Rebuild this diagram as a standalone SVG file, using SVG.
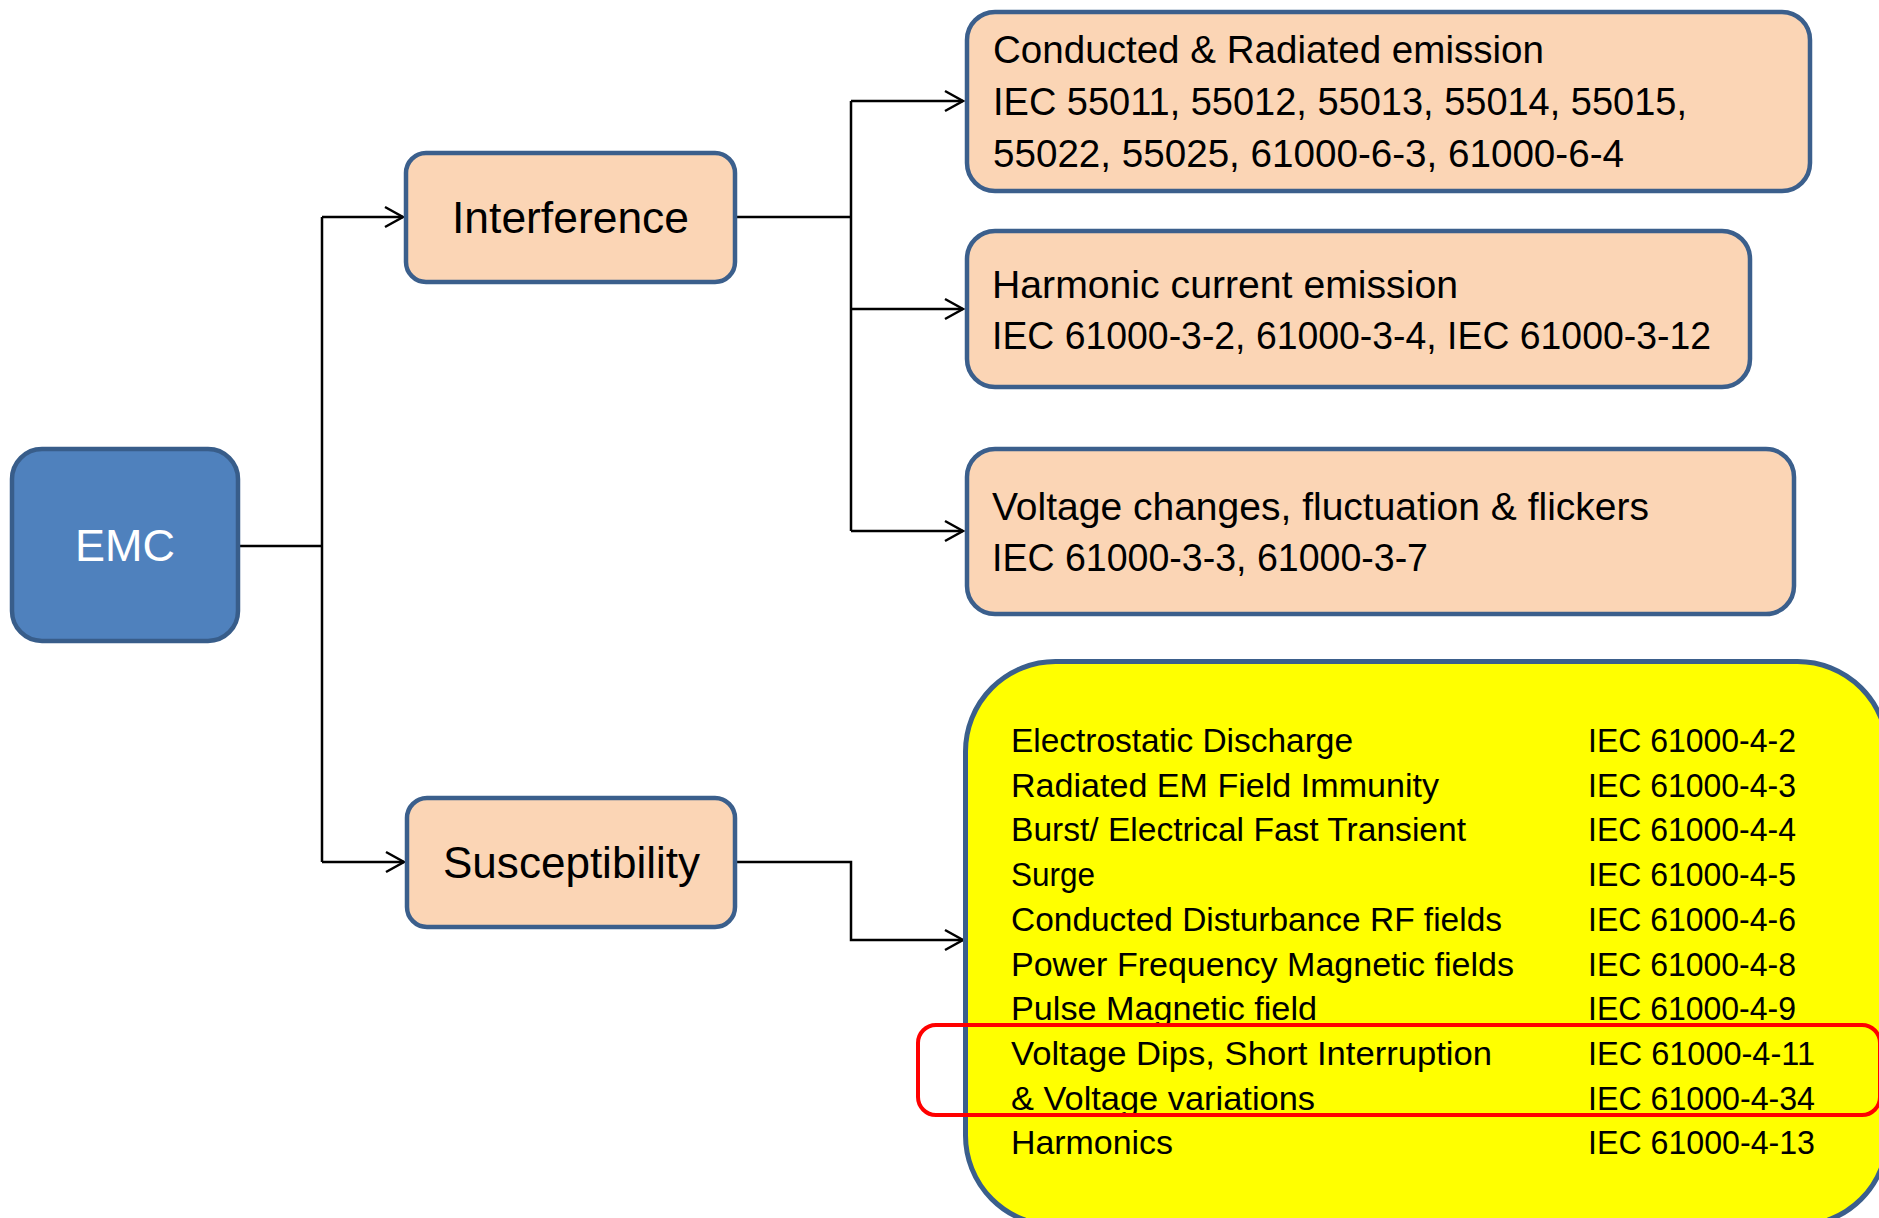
<svg xmlns="http://www.w3.org/2000/svg" width="1879" height="1218" viewBox="0 0 1879 1218">
<style>
text{font-family:"Liberation Sans",Arial,sans-serif;fill:#000}
.peach{fill:#fbd5b5;stroke:#3b5f8c;stroke-width:4.5}
.conn{fill:none;stroke:#000;stroke-width:2.5}
.big{font-size:44px}
.mid{font-size:38px}
.sm{font-size:33px}
</style>
<defs>
<marker id="arr" markerUnits="userSpaceOnUse" markerWidth="24" markerHeight="26" refX="20" refY="12" orient="auto" viewBox="0 0 24 24">
<path d="M2 2 L20 12 L2 22" fill="none" stroke="#000" stroke-width="2.5"/>
</marker>
</defs>
<rect width="1879" height="1218" fill="#fff"/>
<g id="connectors">
<path class="conn" d="M240 546 H322"/>
<path class="conn" d="M322 217 V862"/>
<path class="conn" d="M322 217 H403" marker-end="url(#arr)"/>
<path class="conn" d="M322 862 H404" marker-end="url(#arr)"/>
<path class="conn" d="M737 217 H851"/>
<path class="conn" d="M851 101 V531"/>
<path class="conn" d="M851 101 H963" marker-end="url(#arr)"/>
<path class="conn" d="M851 309 H963" marker-end="url(#arr)"/>
<path class="conn" d="M851 531 H963" marker-end="url(#arr)"/>
<path class="conn" d="M737 862 H851 V940 H963" marker-end="url(#arr)"/>
</g>
<g id="emc">
<rect x="12" y="449" width="226" height="192" rx="30" fill="#4f81bd" stroke="#385d8a" stroke-width="4.5"/>
<text x="125" y="561" text-anchor="middle" class="big" style="fill:#fff" textLength="100" lengthAdjust="spacingAndGlyphs">EMC</text>
</g>
<g id="interference">
<rect class="peach" x="406" y="153" width="329" height="129" rx="20"/>
<text x="570.5" y="233" text-anchor="middle" class="big" textLength="237" lengthAdjust="spacingAndGlyphs">Interference</text>
</g>
<g id="susceptibility">
<rect class="peach" x="407" y="798" width="328" height="129" rx="20"/>
<text x="571.5" y="878" text-anchor="middle" class="big" textLength="257" lengthAdjust="spacingAndGlyphs">Susceptibility</text>
</g>
<g id="conducted">
<rect class="peach" x="967" y="12" width="843" height="179" rx="28"/>
<text x="993" y="63" class="mid" textLength="551" lengthAdjust="spacingAndGlyphs">Conducted &amp; Radiated emission</text>
<text x="993" y="115" class="mid" textLength="694" lengthAdjust="spacingAndGlyphs">IEC 55011, 55012, 55013, 55014, 55015,</text>
<text x="993" y="167" class="mid" textLength="631" lengthAdjust="spacingAndGlyphs">55022, 55025, 61000-6-3, 61000-6-4</text>
</g>
<g id="harmonic">
<rect class="peach" x="967" y="231" width="783" height="156" rx="28"/>
<text x="992" y="298" class="mid" textLength="466" lengthAdjust="spacingAndGlyphs">Harmonic current emission</text>
<text x="992" y="349" class="mid" textLength="719" lengthAdjust="spacingAndGlyphs">IEC 61000-3-2, 61000-3-4, IEC 61000-3-12</text>
</g>
<g id="voltage">
<rect class="peach" x="967" y="449" width="827" height="165" rx="28"/>
<text x="992" y="520" class="mid" textLength="657" lengthAdjust="spacingAndGlyphs">Voltage changes, fluctuation &amp; flickers</text>
<text x="992" y="571" class="mid" textLength="436" lengthAdjust="spacingAndGlyphs">IEC 61000-3-3, 61000-3-7</text>
</g>
<g id="immunity">
<rect x="965.5" y="661.5" width="922" height="564" rx="90" fill="#ffff00" stroke="#3b5f8c" stroke-width="5"/>
<g class="sm">
<text x="1011" y="752" textLength="342" lengthAdjust="spacingAndGlyphs">Electrostatic Discharge</text>
<text x="1011" y="796.7" textLength="428" lengthAdjust="spacingAndGlyphs">Radiated EM Field Immunity</text>
<text x="1011" y="841.4" textLength="455" lengthAdjust="spacingAndGlyphs">Burst/ Electrical Fast Transient</text>
<text x="1011" y="886.1" textLength="84" lengthAdjust="spacingAndGlyphs">Surge</text>
<text x="1011" y="930.8" textLength="491" lengthAdjust="spacingAndGlyphs">Conducted Disturbance RF fields</text>
<text x="1011" y="975.5" textLength="503" lengthAdjust="spacingAndGlyphs">Power Frequency Magnetic fields</text>
<text x="1011" y="1020.2" textLength="306" lengthAdjust="spacingAndGlyphs">Pulse Magnetic field</text>
<text x="1011" y="1064.9" textLength="481" lengthAdjust="spacingAndGlyphs">Voltage Dips, Short Interruption</text>
<text x="1011" y="1109.6" textLength="304" lengthAdjust="spacingAndGlyphs">&amp; Voltage variations</text>
<text x="1011" y="1154.3" textLength="162" lengthAdjust="spacingAndGlyphs">Harmonics</text>
<text x="1588" y="752" textLength="208" lengthAdjust="spacingAndGlyphs">IEC 61000-4-2</text>
<text x="1588" y="796.7" textLength="208" lengthAdjust="spacingAndGlyphs">IEC 61000-4-3</text>
<text x="1588" y="841.4" textLength="208" lengthAdjust="spacingAndGlyphs">IEC 61000-4-4</text>
<text x="1588" y="886.1" textLength="208" lengthAdjust="spacingAndGlyphs">IEC 61000-4-5</text>
<text x="1588" y="930.8" textLength="208" lengthAdjust="spacingAndGlyphs">IEC 61000-4-6</text>
<text x="1588" y="975.5" textLength="208" lengthAdjust="spacingAndGlyphs">IEC 61000-4-8</text>
<text x="1588" y="1020.2" textLength="208" lengthAdjust="spacingAndGlyphs">IEC 61000-4-9</text>
<text x="1588" y="1064.9" textLength="227" lengthAdjust="spacingAndGlyphs">IEC 61000-4-11</text>
<text x="1588" y="1109.6" textLength="227" lengthAdjust="spacingAndGlyphs">IEC 61000-4-34</text>
<text x="1588" y="1154.3" textLength="227" lengthAdjust="spacingAndGlyphs">IEC 61000-4-13</text>
</g>
</g>
<g id="highlight">
<rect x="918" y="1025" width="962" height="90" rx="18" fill="none" stroke="#ff0000" stroke-width="4"/>
</g>
</svg>
